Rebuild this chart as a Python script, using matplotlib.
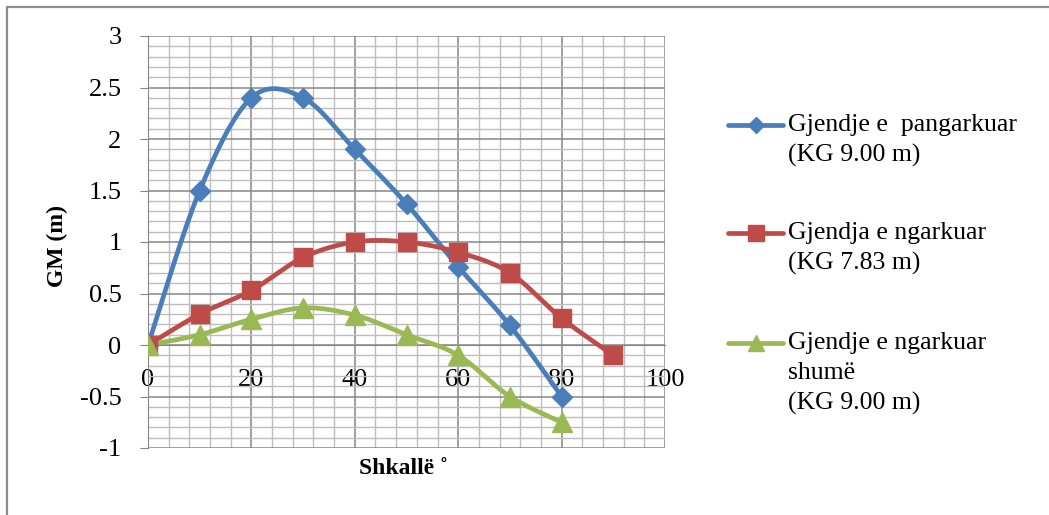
import numpy as np
import matplotlib.pyplot as plt
from matplotlib.patches import Rectangle
from matplotlib.lines import Line2D
from matplotlib.ticker import MultipleLocator

# data
angles = [0, 10, 20, 30, 40, 50, 60, 70, 80, 90]
gm_pangarkuar = [0, 1.5, 2.4, 2.4, 1.9, 1.37, 0.76, 0.19, -0.5]
gm_ngarkuar = [0, 0.3, 0.53, 0.85, 1.0, 1.0, 0.9, 0.7, 0.26, -0.1]
gm_shume = [0, 0.1, 0.25, 0.36, 0.29, 0.1, -0.1, -0.5, -0.75]

labels = ['Gjendje e  pangarkuar\n(KG 9.00 m)',
          'Gjendja e ngarkuar\n(KG 7.83 m)',
          'Gjendje e ngarkuar\nshumë\n(KG 9.00 m)']
colors = ['#4a7ebb', '#be4b48', '#98b954']
markers = ['D', 's', '^']
msizes = [10, 13.5, 14]


def smooth(x, y, n=30):
    # catmull-rom like excel smoothed lines
    x = np.asarray(x, float)
    y = np.asarray(y, float)
    px = np.concatenate([[x[0]], x, [x[-1]]])
    py = np.concatenate([[y[0]], y, [y[-1]]])
    xs, ys = [], []
    t = np.linspace(0, 1, n)
    for i in range(1, len(px) - 2):
        p0 = np.array([px[i], py[i]])
        p3 = np.array([px[i + 1], py[i + 1]])
        c1 = p0 + (np.array([px[i + 1], py[i + 1]]) - np.array([px[i - 1], py[i - 1]])) / 6
        c2 = p3 - (np.array([px[i + 2], py[i + 2]]) - np.array([px[i], py[i]])) / 6
        b = ((1 - t) ** 3)[:, None] * p0 + (3 * (1 - t) ** 2 * t)[:, None] * c1 \
            + (3 * (1 - t) * t ** 2)[:, None] * c2 + (t ** 3)[:, None] * p3
        xs.extend(b[:, 0])
        ys.extend(b[:, 1])
    return xs, ys


plt.rcParams['font.family'] = ['Liberation Serif', 'DejaVu Serif']

W, H = 1049, 515
fig = plt.figure(figsize=(W / 100, H / 100), dpi=100)
# outer chart border (only top and left fall inside the picture)
fig.patches.append(Rectangle((7 / W, -20 / H), 1.1, 1 - 7 / H + 20 / H,
                             transform=fig.transFigure, fill=False,
                             edgecolor='#8c8c8c', linewidth=1.6))
ax = fig.add_axes([148 / W, 67 / H, 517 / W, 412 / H])

series = [gm_pangarkuar, gm_ngarkuar, gm_shume]
for vals, c, m, ms in zip(series, colors, markers, msizes):
    xs = angles[:len(vals)]
    sx, sy = smooth(xs, vals)
    ax.plot(sx, sy, color=c, linewidth=3.4, zorder=3, solid_capstyle='round')
    ax.plot(xs, vals, linestyle='none', marker=m, markersize=ms, color=c, zorder=4)

ax.set_xlim(0, 100)
ax.set_ylim(-1, 3)
ax.xaxis.set_major_locator(MultipleLocator(20))
ax.xaxis.set_minor_locator(MultipleLocator(4))
ax.yaxis.set_major_locator(MultipleLocator(0.5))
ax.yaxis.set_minor_locator(MultipleLocator(0.1))
ax.grid(which='major', color='#868686', linewidth=1.1)
ax.grid(which='minor', color='#bdbdbd', linewidth=1)
ax.set_axisbelow(True)

ax.spines['top'].set_visible(False)
ax.spines['right'].set_visible(False)
ax.spines['bottom'].set_position(('data', 0))
ax.spines['bottom'].set_color('#868686')
ax.spines['left'].set_color('#868686')
ax.tick_params(which='minor', length=0)
ax.tick_params(axis='y', which='major', length=6, color='#868686', labelsize=19, pad=13)
ax.tick_params(axis='x', which='major', length=0, labelsize=19, pad=17)
ax.set_yticks([-1, -0.5, 0, 0.5, 1, 1.5, 2, 2.5, 3])
ax.set_yticklabels(['-1', '-0.5', '0', '0.5', '1', '1.5', '2', '2.5', '3'])

fig.text(57 / W, 1 - 246 / H, 'GM (m)', rotation=90, fontsize=17,
         fontweight='bold', ha='center', va='center')
fig.text(403 / W, 1 - 469 / H, 'Shkallë ˚', fontsize=17,
         fontweight='bold', ha='center', va='center')

# legend drawn by hand: handle sits on the first text line
entry_y = [125, 233, 343]
line_step = 30
for lab, c, m, ms, y0 in zip(labels, colors, markers, msizes, entry_y):
    fy = 1 - y0 / H
    fig.add_artist(Line2D([728 / W, 783 / W], [fy, fy], color=c, linewidth=3.4,
                          solid_capstyle='round'))
    fig.add_artist(Line2D([755.5 / W], [fy], marker=m, markersize=ms * 0.85, color=c))
    for k, part in enumerate(lab.split('\n')):
        fig.text(788 / W, 1 - (y0 + k * line_step) / H, part, fontsize=18.5,
                 ha='left', va='center')

fig.savefig('out.png', dpi=100)
